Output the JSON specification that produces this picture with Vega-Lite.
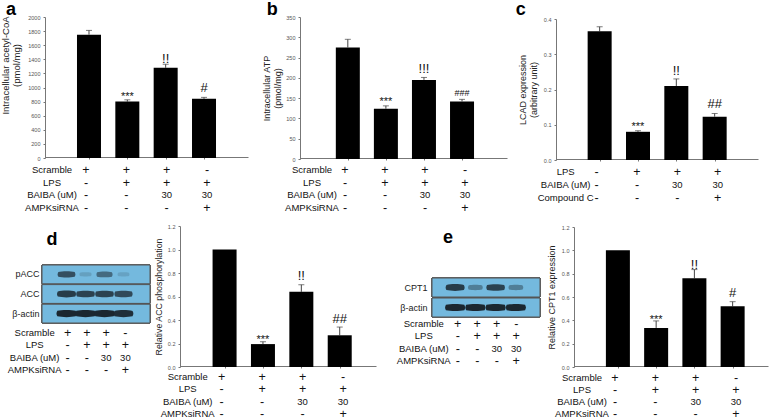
{
"$schema":"https://vega.github.io/schema/vega-lite/v6.json",
"width":778,"height":420,
"autosize":{"type":"fit","contains":"padding"},
"padding":0,
"background":"white",
"datasets":{
"bars":[
{"panel":"a","group":1,"value":1750,"top":1810,"sig":""},
{"panel":"a","group":2,"value":800,"top":825,"sig":"***"},
{"panel":"a","group":3,"value":1280,"top":1330,"sig":"!!"},
{"panel":"a","group":4,"value":840,"top":860,"sig":"#"},
{"panel":"b","group":1,"value":275,"top":295,"sig":""},
{"panel":"b","group":2,"value":124,"top":131,"sig":"***"},
{"panel":"b","group":3,"value":195,"top":201,"sig":"!!!"},
{"panel":"b","group":4,"value":142,"top":147,"sig":"###"},
{"panel":"c","group":1,"value":0.365,"top":0.378,"sig":""},
{"panel":"c","group":2,"value":0.08,"top":0.083,"sig":"***"},
{"panel":"c","group":3,"value":0.21,"top":0.23,"sig":"!!"},
{"panel":"c","group":4,"value":0.123,"top":0.132,"sig":"##"},
{"panel":"d","group":1,"value":1,"top":1,"sig":""},
{"panel":"d","group":2,"value":0.195,"top":0.215,"sig":"***"},
{"panel":"d","group":3,"value":0.64,"top":0.7,"sig":"!!"},
{"panel":"d","group":4,"value":0.27,"top":0.34,"sig":"##"},
{"panel":"e","group":1,"value":1,"top":1,"sig":""},
{"panel":"e","group":2,"value":0.335,"top":0.395,"sig":"***"},
{"panel":"e","group":3,"value":0.76,"top":0.835,"sig":"!!"},
{"panel":"e","group":4,"value":0.52,"top":0.56,"sig":"#"}
],
"cond":[
{"row":"Scramble","group":1,"sign":"+"},{"row":"Scramble","group":2,"sign":"+"},{"row":"Scramble","group":3,"sign":"+"},{"row":"Scramble","group":4,"sign":"-"},
{"row":"LPS","group":1,"sign":"-"},{"row":"LPS","group":2,"sign":"+"},{"row":"LPS","group":3,"sign":"+"},{"row":"LPS","group":4,"sign":"+"},
{"row":"BAIBA (uM)","group":1,"sign":"-"},{"row":"BAIBA (uM)","group":2,"sign":"-"},{"row":"BAIBA (uM)","group":3,"sign":"30"},{"row":"BAIBA (uM)","group":4,"sign":"30"},
{"row":"AMPKsiRNA","group":1,"sign":"-"},{"row":"AMPKsiRNA","group":2,"sign":"-"},{"row":"AMPKsiRNA","group":3,"sign":"-"},{"row":"AMPKsiRNA","group":4,"sign":"+"}
],
"condc":[
{"row":"LPS","group":1,"sign":"-"},{"row":"LPS","group":2,"sign":"+"},{"row":"LPS","group":3,"sign":"+"},{"row":"LPS","group":4,"sign":"+"},
{"row":"BAIBA (uM)","group":1,"sign":"-"},{"row":"BAIBA (uM)","group":2,"sign":"-"},{"row":"BAIBA (uM)","group":3,"sign":"30"},{"row":"BAIBA (uM)","group":4,"sign":"30"},
{"row":"Compound C","group":1,"sign":"-"},{"row":"Compound C","group":2,"sign":"-"},{"row":"Compound C","group":3,"sign":"-"},{"row":"Compound C","group":4,"sign":"+"}
],
"blots":[
{"panel":"d","protein":"pACC","group":1,"level":0.7},{"panel":"d","protein":"pACC","group":2,"level":0.1},{"panel":"d","protein":"pACC","group":3,"level":0.5},{"panel":"d","protein":"pACC","group":4,"level":0.08},
{"panel":"d","protein":"ACC","group":1,"level":0.85},{"panel":"d","protein":"ACC","group":2,"level":0.8},{"panel":"d","protein":"ACC","group":3,"level":0.8},{"panel":"d","protein":"ACC","group":4,"level":0.75},
{"panel":"d","protein":"β-actin","group":1,"level":1},{"panel":"d","protein":"β-actin","group":2,"level":1},{"panel":"d","protein":"β-actin","group":3,"level":1},{"panel":"d","protein":"β-actin","group":4,"level":0.95},
{"panel":"e","protein":"CPT1","group":1,"level":0.85},{"panel":"e","protein":"CPT1","group":2,"level":0.35},{"panel":"e","protein":"CPT1","group":3,"level":0.8},{"panel":"e","protein":"CPT1","group":4,"level":0.35},
{"panel":"e","protein":"β-actin","group":1,"level":1},{"panel":"e","protein":"β-actin","group":2,"level":1},{"panel":"e","protein":"β-actin","group":3,"level":1},{"panel":"e","protein":"β-actin","group":4,"level":1}
]
},
"config":{
"font":"Liberation Sans",
"view":{"stroke":null},
"axisX":{"title":null,"labels":false,"tickSize":2,"domainColor":"#777","tickColor":"#777","grid":false},
"axisY":{"grid":false,"domainColor":"#777","tickColor":"#777","tickSize":2,"labelFontSize":5.5,"labelColor":"#555","labelPadding":3,"titleFontSize":9,"titleFontWeight":"normal","titleColor":"#222","titleLineHeight":11},
"text":{"color":"#111","baseline":"alphabetic"},
"tick":{"color":"#444","size":6,"thickness":1,"orient":"horizontal"},
"rule":{"color":"#444"}
},
"resolve":{"scale":{"x":"independent","y":"independent"}},
"layer":[
{"data":{"name":"bars"},"transform":[{"filter":"datum.panel==='a'"}],
"encoding":{"x":{"field":"group","type":"quantitative","scale":{"domain":[-0.017,5.017],"range":[45,248],"nice":false,"zero":false},"axis":{"orient":"bottom","offset":-262,"values":[1,2,3,4]}}},
"layer":[
{"mark":"rule","encoding":{"y":{"field":"value","type":"quantitative","scale":{"domain":[0,2000],"range":[158,17],"nice":false},"axis":{"orient":"left","offset":-45,"values":[0,200,400,600,800,1000,1200,1400,1600,1800,2000],"format":"d","title":["Intracellular acetyl-CoA","(pmol/mg)"],"titleFontSize":9.5,"titlePadding":6,"titleY":65}},"y2":{"field":"top"}}},
{"mark":"tick","encoding":{"y":{"field":"top","type":"quantitative"}}},
{"mark":{"type":"bar","width":24,"color":"black","orient":"vertical"},"encoding":{"y":{"field":"value","type":"quantitative"}}},
{"transform":[{"filter":"datum.sig==='***'"}],"mark":{"type":"text","fontSize":11,"dy":0},"encoding":{"y":{"field":"top","type":"quantitative"},"text":{"field":"sig"}}},
{"transform":[{"filter":"datum.sig==='!!'"}],"mark":{"type":"text","fontSize":13,"dy":-1},"encoding":{"y":{"field":"top","type":"quantitative"},"text":{"field":"sig"}}},
{"transform":[{"filter":"datum.sig==='#'"}],"mark":{"type":"text","fontSize":13,"dy":-5},"encoding":{"y":{"field":"top","type":"quantitative"},"text":{"field":"sig"}}},
{"transform":[{"filter":"datum.group===1"}],"mark":{"type":"text","fontSize":18,"fontWeight":"bold","align":"left","dx":-83,"dy":-2,"color":"black"},"encoding":{"y":{"datum":2000,"type":"quantitative"},"text":{"field":"panel"}}}
]},
{"data":{"name":"cond"},
"encoding":{"x":{"field":"group","type":"quantitative","axis":null,"scale":{"domain":[-0.017,5.017],"range":[45,248],"nice":false,"zero":false}},"y":{"field":"row","type":"ordinal","axis":null,"scale":{"type":"band","domain":["Scramble","LPS","BAIBA (uM)","AMPKsiRNA"],"range":[164,214]}}},
"layer":[
{"mark":{"type":"text","baseline":"middle"},"encoding":{"text":{"field":"sign"},"size":{"condition":{"test":"datum.sign==='30'","value":9.5},"value":12.5}}},
{"transform":[{"filter":"datum.group===1"}],"mark":{"type":"text","baseline":"middle","fontSize":9.5,"dx":-34},"encoding":{"text":{"field":"row"}}}
]},
{"data":{"name":"bars"},"transform":[{"filter":"datum.panel==='b'"}],
"encoding":{"x":{"field":"group","type":"quantitative","scale":{"domain":[-0.125,5.05],"range":[300,507],"nice":false,"zero":false},"axis":{"orient":"bottom","offset":-261,"values":[1,2,3,4]}}},
"layer":[
{"mark":"rule","encoding":{"y":{"field":"value","type":"quantitative","scale":{"domain":[0,350],"range":[159,17],"nice":false},"axis":{"orient":"left","offset":-300,"values":[0,50,100,150,200,250,300,350],"title":["Intracellular ATP","(pmol/mg)"],"titlePadding":3}},"y2":{"field":"top"}}},
{"mark":"tick","encoding":{"y":{"field":"top","type":"quantitative"}}},
{"mark":{"type":"bar","width":24,"color":"black","orient":"vertical"},"encoding":{"y":{"field":"value","type":"quantitative"}}},
{"transform":[{"filter":"datum.sig==='***'"}],"mark":{"type":"text","fontSize":11,"dy":-1},"encoding":{"y":{"field":"top","type":"quantitative"},"text":{"field":"sig"}}},
{"transform":[{"filter":"datum.sig==='!!!'"}],"mark":{"type":"text","fontSize":13,"dy":-4},"encoding":{"y":{"field":"top","type":"quantitative"},"text":{"field":"sig"}}},
{"transform":[{"filter":"datum.sig==='###'"}],"mark":{"type":"text","fontSize":9,"dy":-3},"encoding":{"y":{"field":"top","type":"quantitative"},"text":{"field":"sig"}}},
{"transform":[{"filter":"datum.group===1"}],"mark":{"type":"text","fontSize":18,"fontWeight":"bold","align":"left","dx":-81,"dy":-2,"color":"black"},"encoding":{"y":{"datum":350,"type":"quantitative"},"text":{"field":"panel"}}}
]},
{"data":{"name":"cond"},
"encoding":{"x":{"field":"group","type":"quantitative","axis":null,"scale":{"domain":[-0.125,5.05],"range":[300,507],"nice":false,"zero":false}},"y":{"field":"row","type":"ordinal","axis":null,"scale":{"type":"band","domain":["Scramble","LPS","BAIBA (uM)","AMPKsiRNA"],"range":[164,214]}}},
"layer":[
{"mark":{"type":"text","baseline":"middle"},"encoding":{"text":{"field":"sign"},"size":{"condition":{"test":"datum.sign==='30'","value":9.5},"value":12.5}}},
{"transform":[{"filter":"datum.group===1"}],"mark":{"type":"text","baseline":"middle","fontSize":9.5,"dx":-33},"encoding":{"text":{"field":"row"}}}
]},
{"data":{"name":"bars"},"transform":[{"filter":"datum.panel==='c'"}],
"encoding":{"x":{"field":"group","type":"quantitative","scale":{"domain":[-0.008,5],"range":[556,758],"nice":false,"zero":false},"axis":{"orient":"bottom","offset":-260,"values":[1,2,3,4]}}},
"layer":[
{"mark":"rule","encoding":{"y":{"field":"value","type":"quantitative","scale":{"domain":[0,0.4],"range":[160,19],"nice":false},"axis":{"orient":"left","offset":-556,"values":[0,0.1,0.2,0.3,0.4],"format":".1f","title":["LCAD expression","(arbitrary unit)"],"titlePadding":5}},"y2":{"field":"top"}}},
{"mark":"tick","encoding":{"y":{"field":"top","type":"quantitative"}}},
{"mark":{"type":"bar","width":24,"color":"black","orient":"vertical"},"encoding":{"y":{"field":"value","type":"quantitative"}}},
{"transform":[{"filter":"datum.sig==='***'"}],"mark":{"type":"text","fontSize":11,"dy":-1},"encoding":{"y":{"field":"top","type":"quantitative"},"text":{"field":"sig"}}},
{"transform":[{"filter":"datum.sig==='!!'"}],"mark":{"type":"text","fontSize":13,"dy":-4},"encoding":{"y":{"field":"top","type":"quantitative"},"text":{"field":"sig"}}},
{"transform":[{"filter":"datum.sig==='##'"}],"mark":{"type":"text","fontSize":13,"dy":-5},"encoding":{"y":{"field":"top","type":"quantitative"},"text":{"field":"sig"}}},
{"transform":[{"filter":"datum.group===1"}],"mark":{"type":"text","fontSize":18,"fontWeight":"bold","align":"left","dx":-84,"dy":-4,"color":"black"},"encoding":{"y":{"datum":0.4,"type":"quantitative"},"text":{"field":"panel"}}}
]},
{"data":{"name":"condc"},
"encoding":{"x":{"field":"group","type":"quantitative","axis":null,"scale":{"domain":[-0.008,5],"range":[556,758],"nice":false,"zero":false}},"y":{"field":"row","type":"ordinal","axis":null,"scale":{"type":"band","domain":["LPS","BAIBA (uM)","Compound C"],"range":[165,204]}}},
"layer":[
{"mark":{"type":"text","baseline":"middle"},"encoding":{"text":{"field":"sign"},"size":{"condition":{"test":"datum.sign==='30'","value":9.5},"value":12.5}}},
{"transform":[{"filter":"datum.group===1"}],"mark":{"type":"text","baseline":"middle","fontSize":9.5,"dx":-31},"encoding":{"text":{"field":"row"}}}
]},
{"data":{"name":"blots"},"transform":[{"filter":"datum.panel==='d'"}],
"mark":{"type":"rect","fill":"#74b9de","stroke":"#555","strokeWidth":1},
"encoding":{"x":{"datum":"blot","type":"nominal","axis":null,"scale":{"type":"band","domain":["blot"],"range":[42,150],"paddingInner":0,"paddingOuter":0}},"y":{"field":"protein","type":"ordinal","scale":{"type":"band","domain":["pACC","ACC","β-actin"],"range":[265,323],"paddingInner":0.04,"paddingOuter":0},"axis":{"orient":"left","offset":-42,"title":null,"domain":false,"ticks":false,"labelFontSize":9,"labelColor":"#222","labelPadding":3}}}},
{"data":{"name":"blots"},"transform":[{"filter":"datum.panel==='d'"}],
"mark":{"type":"point","filled":true,"shape":"M-1,-0.3 C-0.5,-0.42 0.5,-0.42 1,-0.3 C1.12,0 1.12,0 1,0.3 C0.5,0.42 -0.5,0.42 -1,0.3 C-1.12,0 -1.12,0 -1,-0.3 Z","color":"#1b2730"},
"encoding":{"x":{"field":"group","type":"ordinal","axis":null,"scale":{"type":"point","domain":[1,2,3,4],"range":[57,133]}},"y":{"field":"protein","type":"ordinal","axis":null,"scale":{"type":"band","domain":["pACC","ACC","β-actin"],"range":[265,323],"paddingInner":0.04,"paddingOuter":0}},"size":{"field":"level","type":"quantitative","legend":null,"scale":{"domain":[0,1],"range":[100,340]}},"opacity":{"field":"level","type":"quantitative","legend":null,"scale":{"domain":[0,1],"range":[0.08,1]}}}},
{"data":{"name":"cond"},
"encoding":{"x":{"field":"group","type":"ordinal","axis":null,"scale":{"type":"point","domain":[1,2,3,4],"range":[58,135]}},"y":{"field":"row","type":"ordinal","axis":null,"scale":{"type":"band","domain":["Scramble","LPS","BAIBA (uM)","AMPKsiRNA"],"range":[327,376]}}},
"layer":[
{"mark":{"type":"text","baseline":"middle"},"encoding":{"text":{"field":"sign"},"size":{"condition":{"test":"datum.sign==='30'","value":9.5},"value":12.5}}},
{"transform":[{"filter":"datum.group===1"}],"mark":{"type":"text","baseline":"middle","fontSize":9.5,"dx":-33},"encoding":{"text":{"field":"row"}}}
]},
{"data":{"name":"bars"},"transform":[{"filter":"datum.panel==='d'"}],
"encoding":{"x":{"field":"group","type":"quantitative","scale":{"domain":[-0.031,4.815],"range":[180,376],"nice":false,"zero":false},"axis":{"orient":"bottom","offset":-53,"values":[1,2,3,4]}}},
"layer":[
{"mark":"rule","encoding":{"y":{"field":"value","type":"quantitative","scale":{"domain":[0,1.2],"range":[367,226],"nice":false},"axis":{"orient":"left","offset":-180,"values":[0,0.2,0.4,0.6,0.8,1,1.2],"format":".1f","title":"Relative ACC phosphorylation","titleFontSize":8.8,"titlePadding":4}},"y2":{"field":"top"}}},
{"transform":[{"filter":"datum.top>datum.value"}],"mark":"tick","encoding":{"y":{"field":"top","type":"quantitative"}}},
{"mark":{"type":"bar","width":24,"color":"black","orient":"vertical"},"encoding":{"y":{"field":"value","type":"quantitative"}}},
{"transform":[{"filter":"datum.sig==='***'"}],"mark":{"type":"text","fontSize":11,"dy":1},"encoding":{"y":{"field":"top","type":"quantitative"},"text":{"field":"sig"}}},
{"transform":[{"filter":"datum.sig==='!!'"}],"mark":{"type":"text","fontSize":13,"dy":-5},"encoding":{"y":{"field":"top","type":"quantitative"},"text":{"field":"sig"}}},
{"transform":[{"filter":"datum.sig==='##'"}],"mark":{"type":"text","fontSize":13,"dy":-4},"encoding":{"y":{"field":"top","type":"quantitative"},"text":{"field":"sig"}}},
{"transform":[{"filter":"datum.group===1"}],"mark":{"type":"text","fontSize":18,"fontWeight":"bold","align":"left","dx":-178,"dy":19,"color":"black"},"encoding":{"y":{"datum":1.2,"type":"quantitative"},"text":{"field":"panel"}}}
]},
{"data":{"name":"cond"},
"encoding":{"x":{"field":"group","type":"quantitative","axis":null,"scale":{"domain":[-0.031,4.815],"range":[180,376],"nice":false,"zero":false}},"y":{"field":"row","type":"ordinal","axis":null,"scale":{"type":"band","domain":["Scramble","LPS","BAIBA (uM)","AMPKsiRNA"],"range":[371,420]}}},
"layer":[
{"mark":{"type":"text","baseline":"middle"},"encoding":{"text":{"field":"sign"},"size":{"condition":{"test":"datum.sign==='30'","value":9.5},"value":12.5}}},
{"transform":[{"filter":"datum.group===1"}],"mark":{"type":"text","baseline":"middle","fontSize":9.5,"dx":-34},"encoding":{"text":{"field":"row"}}}
]},
{"data":{"name":"blots"},"transform":[{"filter":"datum.panel==='e'"}],
"mark":{"type":"rect","fill":"#74b9de","stroke":"#555","strokeWidth":1},
"encoding":{"x":{"datum":"blot","type":"nominal","axis":null,"scale":{"type":"band","domain":["blot"],"range":[432,540],"paddingInner":0,"paddingOuter":0}},"y":{"field":"protein","type":"ordinal","scale":{"type":"band","domain":["CPT1","β-actin"],"range":[278,317],"paddingInner":0.05,"paddingOuter":0},"axis":{"orient":"left","offset":-432,"title":null,"domain":false,"ticks":false,"labelFontSize":9,"labelColor":"#222","labelPadding":5}}}},
{"data":{"name":"blots"},"transform":[{"filter":"datum.panel==='e'"}],
"mark":{"type":"point","filled":true,"shape":"M-1,-0.3 C-0.5,-0.42 0.5,-0.42 1,-0.3 C1.12,0 1.12,0 1,0.3 C0.5,0.42 -0.5,0.42 -1,0.3 C-1.12,0 -1.12,0 -1,-0.3 Z","color":"#1b2730"},
"encoding":{"x":{"field":"group","type":"ordinal","axis":null,"scale":{"type":"point","domain":[1,2,3,4],"range":[445,526]}},"y":{"field":"protein","type":"ordinal","axis":null,"scale":{"type":"band","domain":["CPT1","β-actin"],"range":[278,317],"paddingInner":0.05,"paddingOuter":0}},"size":{"field":"level","type":"quantitative","legend":null,"scale":{"domain":[0,1],"range":[100,340]}},"opacity":{"field":"level","type":"quantitative","legend":null,"scale":{"domain":[0,1],"range":[0.08,1]}}}},
{"data":{"name":"cond"},
"encoding":{"x":{"field":"group","type":"ordinal","axis":null,"scale":{"type":"point","domain":[1,2,3,4],"range":[448,526]}},"y":{"field":"row","type":"ordinal","axis":null,"scale":{"type":"band","domain":["Scramble","LPS","BAIBA (uM)","AMPKsiRNA"],"range":[318,367]}}},
"layer":[
{"mark":{"type":"text","baseline":"middle"},"encoding":{"text":{"field":"sign"},"size":{"condition":{"test":"datum.sign==='30'","value":9.5},"value":12.5}}},
{"transform":[{"filter":"datum.group===1"}],"mark":{"type":"text","baseline":"middle","fontSize":9.5,"dx":-34},"encoding":{"text":{"field":"row"}}}
]},
{"data":{"name":"bars"},"transform":[{"filter":"datum.panel==='e'"}],
"encoding":{"x":{"field":"group","type":"quantitative","scale":{"domain":[-0.017,4.794],"range":[574,768],"nice":false,"zero":false},"axis":{"orient":"bottom","offset":-53,"values":[1,2,3,4]}}},
"layer":[
{"mark":"rule","encoding":{"y":{"field":"value","type":"quantitative","scale":{"domain":[0,1.2],"range":[367,227],"nice":false},"axis":{"orient":"left","offset":-574,"values":[0,0.2,0.4,0.6,0.8,1,1.2],"format":".1f","title":"Relative CPT1 expression","titlePadding":5}},"y2":{"field":"top"}}},
{"transform":[{"filter":"datum.top>datum.value"}],"mark":"tick","encoding":{"y":{"field":"top","type":"quantitative"}}},
{"mark":{"type":"bar","width":24,"color":"black","orient":"vertical"},"encoding":{"y":{"field":"value","type":"quantitative"}}},
{"transform":[{"filter":"datum.sig==='***'"}],"mark":{"type":"text","fontSize":11,"dy":2},"encoding":{"y":{"field":"top","type":"quantitative"},"text":{"field":"sig"}}},
{"transform":[{"filter":"datum.sig==='!!'"}],"mark":{"type":"text","fontSize":13,"dy":-1},"encoding":{"y":{"field":"top","type":"quantitative"},"text":{"field":"sig"}}},
{"transform":[{"filter":"datum.sig==='#'"}],"mark":{"type":"text","fontSize":13,"dy":-5},"encoding":{"y":{"field":"top","type":"quantitative"},"text":{"field":"sig"}}},
{"transform":[{"filter":"datum.group===1"}],"mark":{"type":"text","fontSize":18,"fontWeight":"bold","align":"left","dx":-175,"dy":16,"color":"black"},"encoding":{"y":{"datum":1.2,"type":"quantitative"},"text":{"field":"panel"}}}
]},
{"data":{"name":"cond"},
"encoding":{"x":{"field":"group","type":"quantitative","axis":null,"scale":{"domain":[-0.017,4.794],"range":[574,768],"nice":false,"zero":false}},"y":{"field":"row","type":"ordinal","axis":null,"scale":{"type":"band","domain":["Scramble","LPS","BAIBA (uM)","AMPKsiRNA"],"range":[372,420]}}},
"layer":[
{"mark":{"type":"text","baseline":"middle"},"encoding":{"text":{"field":"sign"},"size":{"condition":{"test":"datum.sign==='30'","value":9.5},"value":12.5}}},
{"transform":[{"filter":"datum.group===1"}],"mark":{"type":"text","baseline":"middle","fontSize":9.5,"dx":-33},"encoding":{"text":{"field":"row"}}}
]}
]
}
